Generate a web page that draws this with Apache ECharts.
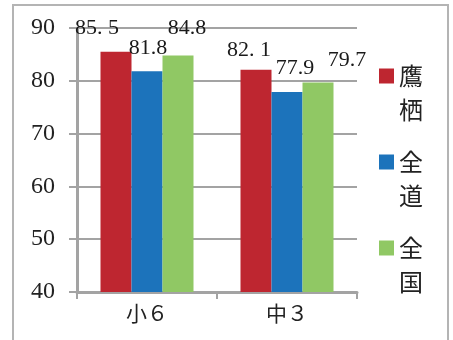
<!DOCTYPE html>
<html>
<head>
<meta charset="utf-8">
<script src="https://cdn.jsdelivr.net/npm/echarts@6/dist/echarts.min.js"></script>
<style>
  html, body { margin: 0; padding: 0; background: #fff; }
  #chart { width: 453px; height: 340px; }
</style>
</head>
<body>
<div id="chart"></div>
<script>
// Grade levels and scores (Takasu / Hokkaido / national)
const categories = ['小６', '中３'];
const seriesNames = ['鷹栖', '全道', '全国'];
const takasu = [85.5, 82.1];
const hokkaido = [81.8, 77.9];
const national = [84.8, 79.7];
const yTicks = { min: 40, max: 90, interval: 10 };

// Styling
const colors = ['#BE2630', '#1C73BB', '#90C864'];
const labelOffsets = [
  [[-19, -13], [-7, -8]],
  [[1, -12], [8, -13]],
  [[9, -16], [29, -11]]
];
const serif = '"Liberation Serif", "DejaVu Serif", serif';
const cjk = '"Noto Sans CJK JP", "Noto Sans", sans-serif';
const gray = '#a3a3a3';

function makeSeries(idx, values, fmt) {
  return {
    name: seriesNames[idx],
    type: 'bar',
    barWidth: 31,
    barGap: '0%',
    itemStyle: { color: colors[idx] },
    data: values.map((v, i) => ({
      value: v,
      label: { offset: labelOffsets[idx][i] }
    })),
    label: {
      show: true,
      position: 'top',
      distance: 0,
      color: '#1a1a1a',
      fontFamily: serif,
      fontSize: 22,
      lineHeight: 22,
      formatter: p => fmt(p.value)
    }
  };
}

const chart = echarts.init(document.getElementById('chart'), null, { renderer: 'canvas' });
chart.setOption({
  animation: false,
  backgroundColor: '#fff',
  graphic: [{
    type: 'rect',
    shape: { x: 13, y: 5, width: 435, height: 345 },
    style: { fill: 'none', stroke: '#b4b4b4', lineWidth: 2 },
    silent: true,
    z: -1
  }],
  grid: { left: 77, right: 96, top: 28, bottom: 48 },
  legend: {
    orient: 'vertical',
    left: 379,
    top: 25,
    padding: 0,
    itemWidth: 15,
    itemHeight: 15,
    itemGap: -16,
    icon: 'rect',
    formatter: name => '\n' + name.split('').join('\n'),
    textStyle: { fontFamily: cjk, fontSize: 24, lineHeight: 34, color: '#222' },
    data: seriesNames
  },
  xAxis: {
    type: 'category',
    data: categories,
    axisLine: { lineStyle: { color: gray, width: 3 } },
    axisTick: { show: true, length: 7, lineStyle: { color: gray, width: 2 } },
    axisLabel: { margin: 11, fontFamily: cjk, fontSize: 21, color: '#222' }
  },
  yAxis: {
    type: 'value',
    min: yTicks.min,
    max: yTicks.max,
    interval: yTicks.interval,
    axisLine: { show: true, lineStyle: { color: gray, width: 3 } },
    axisTick: { show: true, length: 8, lineStyle: { color: gray, width: 2 } },
    splitLine: { lineStyle: { color: gray, width: 2 } },
    axisLabel: { margin: 22, fontFamily: serif, fontSize: 24, color: '#222' }
  },
  series: [
    makeSeries(0, takasu, v => v.toFixed(1).replace('.', '. ')),
    makeSeries(1, hokkaido, v => v.toFixed(1)),
    makeSeries(2, national, v => v.toFixed(1))
  ]
});
</script>
</body>
</html>
